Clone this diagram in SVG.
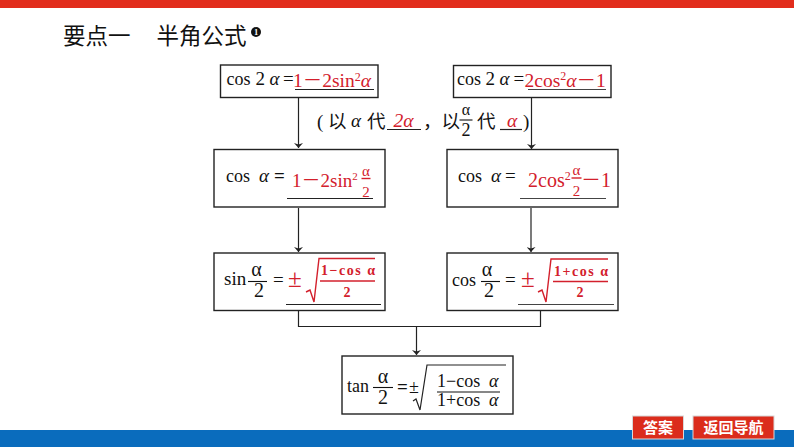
<svg xmlns="http://www.w3.org/2000/svg" width="794" height="447" viewBox="0 0 794 447">
<style>
text{font-family:"Liberation Serif","Noto Sans CJK SC",serif;fill:#111;font-size:18px}
.r{fill:#d3202c}
.b{font-weight:700;font-size:14px}
.cjk{font-family:"Noto Sans CJK SC",sans-serif;font-size:18.500px}
.i{font-style:italic}
.f{font-size:20px}
.m{text-anchor:middle}
.box{fill:#fff;stroke:#222;stroke-width:1.4}
.ln{fill:none;stroke:#222;stroke-width:1.2}
.g{stroke:#444}
.rl{fill:none;stroke:#d3202c;stroke-width:1.4}
.fr{fill:none;stroke:#111;stroke-width:1.1}
.btn{fill:#db2c1c;stroke:#d8d8d8;stroke-width:1}
.bt{font-family:"Noto Sans CJK SC",sans-serif;font-size:15px;font-weight:700;fill:#fff;text-anchor:middle}
.t{font-family:"Noto Sans CJK SC",sans-serif;font-size:22.500px}
</style>
<defs><marker id="a" markerWidth="6" markerHeight="9" refX="5" refY="4.500" orient="auto" markerUnits="userSpaceOnUse"><path d="M0 0L5 4.500L0 9L1.500 4.500Z" fill="#222"/></marker></defs>
<rect x="0" y="0" width="794" height="8" fill="#e22d1c"/>
<rect x="0" y="430" width="794" height="17" fill="#0a6cbd"/>
<g id="title"><text class="t" x="63" y="44">要点一</text><text class="t" x="156.500" y="44">半角公式</text><circle cx="256" cy="32" r="5" fill="#111"/><text class="m" x="256" y="35" style="font-size:8.500px;fill:#fff;font-weight:700">1</text></g>
<g id="connectors">
<path class="ln" d="M298.500 98V148" marker-end="url(#a)"/>
<path class="ln" d="M531.500 98V149" marker-end="url(#a)"/>
<path class="ln" d="M298.500 208V252" marker-end="url(#a)"/>
<path class="ln" d="M531 208V252" marker-end="url(#a)"/>
<path class="ln" d="M298.500 311V326.500H540.500V311"/>
<path class="ln" d="M416.500 327V355" marker-end="url(#a)"/>
</g>
<g id="n1"><rect class="box" x="220.500" y="65" width="157.500" height="32.500"/><text x="226.500" y="85">cos</text><text x="255.500" y="85" style="font-size:19px">2</text><text class="i" x="269.500" y="85" style="font-size:19px">α</text><text x="283" y="85" style="font-size:19px">=</text><text class="r" x="293" y="87" style="font-size:19.500px">1－2sin<tspan font-size="12" dy="-6.500">2</tspan><tspan class="i" dy="6.500">α</tspan></text><path class="ln" d="M295 89.500H374"/></g>
<g id="n2"><rect class="box" x="453.500" y="65.500" width="157.500" height="32"/><text x="457" y="85">cos</text><text x="485.500" y="85" style="font-size:19px">2</text><text class="i" x="499.500" y="85" style="font-size:19px">α</text><text x="513.500" y="85" style="font-size:19px">=</text><text class="r" x="524.500" y="86.500" style="font-size:19.500px">2cos<tspan font-size="12" dy="-6.500">2</tspan><tspan class="i" dy="6.500">α</tspan>－1</text><path class="ln g" d="M528 89.500H606"/></g>
<g id="note"><text x="317" y="128" style="font-size:19px">(</text><text class="cjk" x="328" y="127.500">以</text><text class="i" x="351" y="127" style="font-size:19px">α</text><text class="cjk" x="367" y="127.500">代</text><path class="ln" d="M387 129.500H421"/><text class="r i" x="393.500" y="126.500" style="font-size:19.500px">2α</text><text class="cjk" x="423" y="127.500">，以</text><text class="m" x="466" y="115" style="font-size:16px">α</text><path class="fr" d="M459.500 120H472.500"/><text class="m" x="466" y="136" style="font-size:18px">2</text><text class="cjk" x="477" y="127.500">代</text><path class="ln" d="M500 129.500H522"/><text class="r i" x="507" y="126.500" style="font-size:19.500px">α</text><text x="523" y="128" style="font-size:19px">)</text></g>
<g id="n3"><rect class="box" x="214" y="149.500" width="171" height="57.500"/><text x="226" y="182">cos</text><text class="i" x="259" y="182" style="font-size:19px">α</text><text x="274" y="182" style="font-size:19px;font-weight:700">=</text><text class="r" x="292" y="187" style="font-size:19px">1－2sin<tspan font-size="11" dy="-7">2</tspan></text><text class="r m" x="366" y="176" style="font-size:15px">α</text><path class="rl" d="M361.500 178.500H370.500"/><text class="r m" x="366" y="196.500" style="font-size:15px">2</text><path class="ln" d="M287 198.500H373"/></g>
<g id="n4"><rect class="box" x="447" y="149.500" width="171" height="57.500"/><text x="458" y="182">cos</text><text class="i" x="491" y="182" style="font-size:19px">α</text><text x="505" y="182" style="font-size:19px">=</text><text class="r" x="528" y="187" style="font-size:20px">2cos<tspan font-size="12" dy="-7">2</tspan></text><text class="r m" x="576.500" y="175" style="font-size:15px">α</text><path class="rl" d="M571.500 178H581.500"/><text class="r m" x="576.500" y="196" style="font-size:15px">2</text><text class="r" x="581" y="187" style="font-size:20px">－1</text><path class="ln g" d="M520 198.500H606"/></g>
<g id="n5"><rect class="box" x="214" y="253" width="171" height="57.500"/><text x="224" y="285" style="font-size:19px">sin</text><text class="m f" x="256.500" y="276">α</text><path class="fr" d="M248 281.500H267"/><text class="m f" x="259" y="297">2</text><text x="273" y="286" style="font-size:19px">=</text><text class="r" x="288" y="287" style="font-size:25px">±</text><path class="rl" d="M306 292L310 290L314 302L319 258.500H375"/><text class="r b" x="321" y="275" textLength="54">1−cos α</text><path class="rl" d="M320 281H375"/><text class="r b m" x="347" y="297">2</text><path class="ln" d="M286 304.500H381"/></g>
<g id="n6"><rect class="box" x="447" y="253" width="171" height="57.500"/><text x="452" y="286">cos</text><text class="m f" x="487" y="276">α</text><path class="fr" d="M481 281.500H500"/><text class="m f" x="489" y="297">2</text><text x="505" y="286" style="font-size:19px">=</text><text class="r" x="521" y="287" style="font-size:25px">±</text><path class="rl" d="M538 292L542 290L546 302L551 259H608"/><text class="r b" x="554" y="276" textLength="54">1+cos α</text><path class="rl" d="M553 281.500H608"/><text class="r b m" x="580" y="297">2</text><path class="ln g" d="M518 304.500H614"/></g>
<g id="n7"><rect class="box" x="342" y="356" width="171" height="58"/><text x="347" y="392">tan</text><text class="m f" x="383" y="383">α</text><path class="fr" d="M373 387.500H393"/><text class="m f" x="383" y="404">2</text><text x="397" y="393" style="font-size:19px;font-weight:700">=</text><text x="409" y="393" style="font-size:18px">±</text><path class="ln" d="M413 401L416 399L420 410L427 365H506"/><text x="437" y="387">1−cos</text><text class="i" x="489" y="387">α</text><path class="fr" d="M437 392H500"/><text x="437" y="406">1+cos</text><text class="i" x="489" y="406">α</text></g>
<g id="btn1"><rect class="btn" x="632.500" y="416" width="51" height="23"/><text class="bt" x="658" y="433">答案</text></g>
<g id="btn2"><rect class="btn" x="693" y="416" width="81" height="23"/><text class="bt" x="733.500" y="433">返回导航</text></g>
</svg>
